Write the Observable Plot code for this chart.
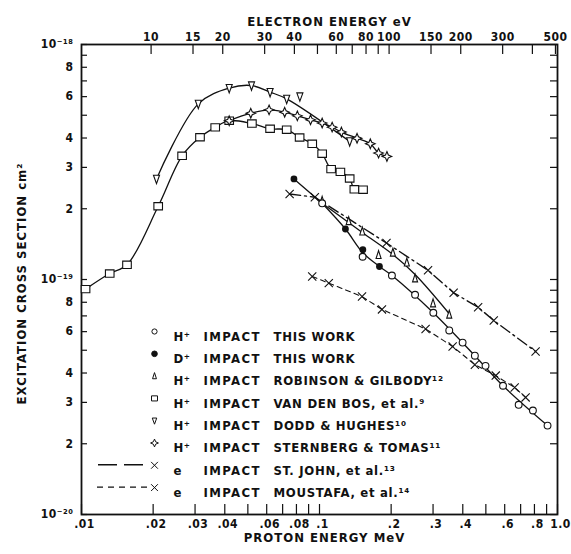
<!DOCTYPE html>
<html><head><meta charset="utf-8">
<script src="https://cdn.jsdelivr.net/npm/d3@7"></script>
<script src="https://cdn.jsdelivr.net/npm/@observablehq/plot@0.6"></script>
<style>
body{margin:0;background:#fff;}
#chart svg text{font-family:"DejaVu Sans Condensed","Liberation Sans Narrow",sans-serif;font-weight:bold;}
</style></head><body><div id="chart"></div>
<script>
// ---- data: [proton energy MeV, cross section cm^2] ----
const vanDenBos = [[0.0104,9.1e-20],[0.01314,1.06e-19],[0.01553,1.155e-19],[0.0210,2.05e-19],[0.02647,3.36e-19],[0.03147,4.03e-19],[0.03646,4.44e-19],[0.04174,4.74e-19],[0.0520,4.61e-19],[0.0620,4.38e-19],[0.0728,4.34e-19],[0.0825,4.02e-19],[0.0932,3.78e-19],[0.1026,3.43e-19],[0.1119,2.95e-19],[0.1224,2.87e-19],[0.1339,2.69e-19],[0.1401,2.42e-19],[0.1524,2.41e-19]];
const doddHughes = [[0.02066,2.68e-19],[0.03096,5.59e-19],[0.04174,6.52e-19],[0.0518,6.69e-19],[0.0620,6.27e-19],[0.0728,5.87e-19],[0.0827,6.01e-19],[0.1339,3.87e-19]];
const doddHughesCurve = [[0.02066,2.68e-19],[0.03096,5.59e-19],[0.04174,6.52e-19],[0.0518,6.69e-19],[0.0620,6.27e-19],[0.0728,5.87e-19],[0.1339,3.87e-19]];
const sternbergTomas = [[0.04174,4.74e-19],[0.05143,5.10e-19],[0.0614,5.27e-19],[0.0714,5.15e-19],[0.0807,4.97e-19],[0.0917,4.78e-19],[0.1026,4.63e-19],[0.1130,4.45e-19],[0.1236,4.24e-19],[0.1438,3.99e-19],[0.1635,3.78e-19],[0.1771,3.45e-19],[0.1920,3.34e-19]];
const hThisWork = [[0.1026,2.11e-19],[0.1518,1.25e-19],[0.2015,1.04e-19],[0.2521,8.61e-20],[0.3008,7.22e-20],[0.3509,6.07e-20],[0.3993,5.39e-20],[0.4496,4.74e-20],[0.4984,4.29e-20],[0.5903,3.53e-20],[0.6868,2.93e-20],[0.7883,2.77e-20],[0.9082,2.39e-20]];
const hThisWorkCurve = [[0.1026,2.11e-19],[0.1285,1.64e-19],[0.1521,1.30e-19],[0.1786,1.136e-19],[0.2015,1.04e-19],[0.3008,7.22e-20],[0.4496,4.74e-20],[0.5903,3.53e-20],[0.9082,2.39e-20]];
const dThisWork = [[0.0781,2.68e-19],[0.1285,1.64e-19],[0.1521,1.34e-19],[0.1786,1.136e-19]];
const dThisWorkCurve = [[0.0781,2.68e-19],[0.1026,2.11e-19]];
const robinsonGilbody = [[0.1026,2.16e-19],[0.1326,1.77e-19],[0.1513,1.60e-19],[0.1771,1.27e-19],[0.2034,1.30e-19],[0.2328,1.18e-19],[0.2521,1.01e-19],[0.300,7.91e-20],[0.3509,7.08e-20]];
const robinsonGilbodyCurve = [[0.1026,2.11e-19],[0.1513,1.585e-19],[0.2034,1.277e-19],[0.2521,1.05e-19],[0.3509,7.15e-20]];
const stJohn = [[0.0749,2.31e-19],[0.0956,2.24e-19],[0.1912,1.43e-19],[0.2858,1.095e-19],[0.3661,8.78e-20],[0.4640,7.62e-20],[0.5397,6.69e-20],[0.8091,4.94e-20]];
const moustafa = [[0.0932,1.03e-19],[0.1094,9.65e-20],[0.1509,8.46e-20],[0.1830,7.46e-20],[0.2791,6.16e-20],[0.3626,5.19e-20],[0.4496,4.34e-20],[0.5503,3.90e-20],[0.6608,3.47e-20],[0.7346,3.15e-20]];

// ---- ticks ----
const xTicks = [0.01,0.02,0.03,0.04,0.05,0.06,0.07,0.08,0.09,0.1,0.2,0.3,0.4,0.5,0.6,0.7,0.8,0.9,1.0];
const xTickLabels = [".01",".02",".03",".04","",".06","",".08","",".1",".2",".3",".4","",".6","",".8","","1.0"];
const eVTicks = [10,15,20,30,40,50,60,70,80,90,100,150,200,300,400,500];
const eVTickLabels = ["10","15","20","30","40","","60","","80","","100","150","200","300","","500"];
const EV_PER_MEV = 510; // electron eV at the same velocity as a 1 MeV proton (as drawn)
const yTicks = [1e-20,2e-20,3e-20,4e-20,5e-20,6e-20,7e-20,8e-20,9e-20,1e-19,2e-19,3e-19,4e-19,5e-19,6e-19,7e-19,8e-19,9e-19,1e-18];
const yTickLabels = ["10⁻²⁰","2","3","4","","6","","8","","10⁻¹⁹","2","3","4","","6","","8","","10⁻¹⁸"];

// ---- legend ----
const legendPrefix = ["H⁺","D⁺","H⁺","H⁺","H⁺","H⁺","e","e"];
const legendNames = ["THIS WORK","THIS WORK","ROBINSON & GILBODY¹²","VAN DEN BOS, et al.⁹","DODD & HUGHES¹⁰","STERNBERG & TOMAS¹¹","ST. JOHN, et al.¹³","MOUSTAFA, et al.¹⁴"];

// ---- custom symbols ----
const rOf = s => Math.sqrt(s / Math.PI);
const triUp = {draw(c, s){const r=rOf(s); c.moveTo(0,-r*1.25); c.lineTo(r*0.7,r*0.95); c.lineTo(-r*0.7,r*0.95); c.closePath();}};
const triDown = {draw(c, s){const r=rOf(s); c.moveTo(-r*0.8,-r*0.95); c.lineTo(r*0.8,-r*0.95); c.lineTo(0,r*1.25); c.closePath();}};
const star4 = {draw(c, s){const r=rOf(s)*1.15, a=r*0.3; c.moveTo(0,-r); c.lineTo(a,-a); c.lineTo(r,0); c.lineTo(a,a); c.lineTo(0,r); c.lineTo(-a,a); c.lineTo(-r,0); c.lineTo(-a,-a); c.closePath();}};
const sq = {draw(c, s){const r=rOf(s); c.rect(-r*1.0,-r*0.85,r*2.0,r*1.7);}};

const K = "#111";
const W = 571, H = 554, ML = 81, MR = 14, MT = 44, MB = 40;
const FW = W - ML - MR, FH = H - MT - MB;
const xy = {x: d => d[0], y: d => d[1]};
const lineStyle = {...xy, stroke: K, strokeWidth: 1.3};
const openDot = {...xy, fill: "white", stroke: K, strokeWidth: 1.1};
const topTicks = eVTicks.map(e => e / EV_PER_MEV);

const legendSym = [
  {symbol:"circle", r:2.6, fill:"white"},
  {symbol:"circle", r:2.8, fill:K},
  {symbol:triUp, r:2.8, fill:"white"},
  {symbol:sq, r:3.0, fill:"white"},
  {symbol:triDown, r:2.8, fill:"white"},
  {symbol:star4, r:3.4, fill:"white"},
  {symbol:"times", r:3.2, fill:"none"},
  {symbol:"times", r:3.2, fill:"none"}
];
const LEG_TOP = 287, LEG_STEP = 22.3;
const legendMarks = [];
legendNames.forEach((name, i) => {
  const dy = LEG_TOP + LEG_STEP * i;
  const s = legendSym[i];
  legendMarks.push(Plot.dot([0], {x:null, y:null, frameAnchor:"top-left", dx: 73, dy, symbol: s.symbol, r: s.r, fill: s.fill, stroke: K, strokeWidth: 1}));
  legendMarks.push(Plot.text([legendPrefix[i]], {frameAnchor:"top-left", dx: 92, dy, textAnchor:"start", fontSize: 13, fill: K}));
  legendMarks.push(Plot.text(["IMPACT"], {frameAnchor:"top-left", dx: 122, dy, textAnchor:"start", fontSize: 13, fill: K, className: "wide"}));
  legendMarks.push(Plot.text([name], {frameAnchor:"top-left", dx: 192, dy, textAnchor:"start", fontSize: 13, fill: K, className: "name"}));
});

const chart = Plot.plot({
  width: W, height: H,
  marginLeft: ML, marginRight: MR, marginTop: MT, marginBottom: MB,
  x: {type: "log", domain: [0.01, 1], axis: null},
  y: {type: "log", domain: [1e-20, 1e-18], axis: null},
  style: {background: "white", color: K, fontSize: "12px", letterSpacing: "0.5px"},
  marks: [
    Plot.frame({stroke: K, strokeWidth: 1.8}),
    // inward ticks
    Plot.tickX(xTicks, {x: d => d, insetTop: FH - 10, stroke: K, strokeWidth: 1.2}),
    Plot.tickX(topTicks, {x: d => d, insetBottom: FH - 10, stroke: K, strokeWidth: 1.2}),
    Plot.tickY(yTicks, {y: d => d, insetRight: FW - 6, stroke: K, strokeWidth: 1.2}),
    Plot.tickY(yTicks, {y: d => d, insetLeft: FW - 7, stroke: K, strokeWidth: 1.2}),
    // tick labels
    Plot.text(xTicks, {x: d => d, text: (d, i) => xTickLabels[i], frameAnchor: "bottom", lineAnchor: "top", dx: 3, dy: 5, fontSize: 12, fill: K}),
    Plot.text(topTicks, {x: d => d, text: (d, i) => eVTickLabels[i], frameAnchor: "top", lineAnchor: "bottom", dy: -4, fontSize: 12, fill: K}),
    Plot.text(yTicks, {y: d => d, text: (d, i) => yTickLabels[i], frameAnchor: "left", textAnchor: "end", dx: -8, fontSize: 12, fill: K}),
    // axis titles
    Plot.text(["ELECTRON ENERGY eV"], {frameAnchor: "top", textAnchor: "middle", dx: 10, dy: -28, fontSize: 13, fill: K, className: "title"}),
    Plot.text(["PROTON ENERGY MeV"], {frameAnchor: "bottom", textAnchor: "middle", dx: 5, dy: 27, fontSize: 13, fill: K, className: "title"}),
    Plot.text(["EXCITATION CROSS SECTION cm²"], {frameAnchor: "left", textAnchor: "middle", dx: -60, dy: 4, rotate: -90, fontSize: 13, fill: K, className: "title"}),
    // curves
    Plot.line(vanDenBos, {...lineStyle, curve: "catmull-rom"}),
    Plot.line(doddHughesCurve, {...lineStyle, curve: "catmull-rom"}),
    Plot.line(sternbergTomas, {...lineStyle, curve: "catmull-rom"}),
    Plot.line(hThisWorkCurve, {...lineStyle, curve: "catmull-rom"}),
    Plot.line(dThisWorkCurve, lineStyle),
    Plot.line(robinsonGilbodyCurve, {...lineStyle, curve: "catmull-rom"}),
    Plot.line(stJohn, {...lineStyle, strokeWidth: 1.4, strokeDasharray: "11,4,2,4"}),
    Plot.line(moustafa, {...lineStyle, strokeWidth: 1.1, strokeDasharray: "5,4"}),
    // points
    Plot.dot(vanDenBos, {...openDot, symbol: sq, r: 4.3}),
    Plot.dot(doddHughes, {...openDot, symbol: triDown, r: 3.8}),
    Plot.dot(sternbergTomas, {...openDot, symbol: star4, r: 4.2}),
    Plot.dot(robinsonGilbody, {...openDot, symbol: triUp, r: 3.6}),
    Plot.dot(hThisWork, {...openDot, symbol: "circle", r: 3.4}),
    Plot.dot(dThisWork, {...xy, symbol: "circle", r: 3.4, fill: K}),
    Plot.dot(stJohn, {...xy, symbol: "times", r: 3.8, stroke: K, strokeWidth: 1.1}),
    Plot.dot(moustafa, {...xy, symbol: "times", r: 3.8, stroke: K, strokeWidth: 1.1}),
    ...legendMarks
  ]
});

// letter spacing tweaks
d3.select(chart).selectAll("g.wide text").attr("letter-spacing", "1.4px");
d3.select(chart).selectAll("g.name text").attr("letter-spacing", "0.7px");
d3.select(chart).selectAll("g.title text").attr("letter-spacing", "1px");

// legend line samples for the electron-impact series
const g = d3.select(chart).append("g").attr("stroke", K).attr("fill", "none");
const rowY = i => MT + LEG_TOP + LEG_STEP * i;
g.append("line").attr("x1", 98).attr("x2", 147).attr("y1", rowY(6)).attr("y2", rowY(6)).attr("stroke-width", 1.4).attr("stroke-dasharray", "19,7");
g.append("line").attr("x1", 97).attr("x2", 148).attr("y1", rowY(7)).attr("y2", rowY(7)).attr("stroke-width", 1.2).attr("stroke-dasharray", "6,5");

document.getElementById("chart").append(chart);
</script></body></html>
